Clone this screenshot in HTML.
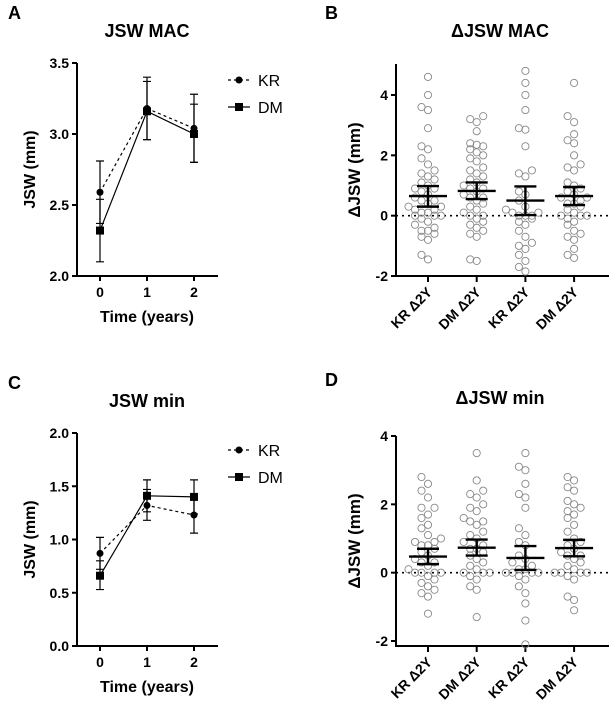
<!DOCTYPE html>
<html><head><meta charset="utf-8"><style>
body{margin:0;background:#fff}
svg{display:block;font-family:"Liberation Sans",Arial,sans-serif}
</style></head><body>
<svg id="fig" width="615" height="719" viewBox="0 0 615 719"></svg>
<script>
// ---- Data ----
const timeCats = [0, 1, 2];
const macKR = [2.59, 3.18, 3.04];
const macKRlo = [2.37, 2.96, 2.80];
const macKRhi = [2.81, 3.40, 3.28];
const macDM = [2.32, 3.16, 3.00];
const macDMlo = [2.10, 2.96, 2.80];
const macDMhi = [2.54, 3.37, 3.21];
const minKR = [0.87, 1.32, 1.23];
const minKRlo = [0.72, 1.18, 1.06];
const minKRhi = [1.02, 1.47, 1.40];
const minDM = [0.66, 1.41, 1.40];
const minDMlo = [0.53, 1.26, 1.24];
const minDMhi = [0.80, 1.56, 1.56];
const groupCats = ["KR Δ2Y","DM Δ2Y","KR Δ2Y","DM Δ2Y"];
const dMac1 = [4.6,4.0,3.6,3.5,2.9,2.3,2.2,1.9,1.7,1.5,1.4,1.3,1.2,1.0,0.9,0.8,0.7,0.6,0.5,0.4,0.3,0.2,0.2,0.1,0.1,0,0,-0.1,-0.2,-0.3,-0.4,-0.5,-0.5,-0.6,-0.7,-0.8,-1.3,-1.45,0.9,0.5,0.3,0.0,1.1];
const dMac2 = [3.3,3.2,3.1,2.8,2.4,2.35,2.3,2.2,2.1,2.0,1.9,1.8,1.6,1.5,1.4,1.2,1.1,1.0,0.9,0.8,0.7,0.6,0.5,0.4,0.3,0.2,0.1,0,0,-0.1,-0.2,-0.3,-0.4,-0.5,-0.6,-0.7,-1.45,-1.5,1.3,0.9,0.6];
const dMac3 = [4.8,4.4,4.0,3.5,2.9,2.85,2.3,1.5,1.4,1.3,0.8,0.7,0.5,0.3,0.2,0.1,0,0,-0.1,-0.2,-0.3,-0.5,-0.7,-0.9,-1.0,-1.1,-1.3,-1.5,-1.7,-1.85,0.1,0.0];
const dMac4 = [4.4,3.3,3.1,2.7,2.5,2.4,2.0,1.7,1.6,1.5,1.1,1.0,0.9,0.8,0.7,0.6,0.5,0.4,0.3,0.2,0.1,0,0,-0.1,-0.2,-0.3,-0.5,-0.6,-0.7,-0.8,-1.1,-1.3,-1.4,0.4,0.0,0.6];
const dMacMean = [0.65, 0.82, 0.50, 0.65];
const dMacLo = [0.30, 0.55, 0.02, 0.35];
const dMacHi = [0.98, 1.10, 0.97, 0.95];
const dMin1 = [2.8,2.6,2.4,2.2,1.9,1.9,1.7,1.6,1.4,1.3,1.1,1.0,0.9,0.9,0.8,0.7,0.6,0.5,0.4,0.3,0.2,0.1,0,0,0,-0.1,-0.2,-0.3,-0.4,-0.5,-0.6,-0.7,-1.2,0.8,0.3,0.0];
const dMin2 = [3.5,2.7,2.4,2.3,2.2,2.0,1.9,1.8,1.6,1.5,1.4,1.2,1.1,1.0,0.9,0.8,0.7,0.6,0.5,0.4,0.3,0.2,0.1,0,0,-0.1,-0.2,-0.4,-0.5,-1.3,1.5,0.7,0.0];
const dMin3 = [3.5,3.1,3.0,2.6,2.3,2.2,1.9,1.3,1.1,0.9,0.8,0.5,0.4,0.3,0.2,0.1,0,0,0,-0.1,-0.2,-0.4,-0.6,-0.9,-1.4,-2.1,0.0,0.1];
const dMin4 = [2.8,2.7,2.5,2.4,2.1,2.0,1.9,1.8,1.7,1.6,1.4,1.2,1.0,0.9,0.8,0.7,0.6,0.5,0.4,0.3,0.2,0.1,0,0,0,-0.1,-0.2,-0.7,-0.8,-1.1,0.0,0.5];
const dMinMean = [0.47, 0.73, 0.43, 0.72];
const dMinLo = [0.25, 0.50, 0.08, 0.48];
const dMinHi = [0.70, 0.97, 0.78, 0.96];
const macTicks = [2.0, 2.5, 3.0, 3.5];
const minTicks = [0.0, 0.5, 1.0, 1.5, 2.0];
const dMacTicks = [-2, 0, 2, 4];
const dMinTicks = [-2, 0, 2, 4];

const svg = document.getElementById('fig');
const NS = 'http://www.w3.org/2000/svg';
function mk(tag, attrs, text){
  const e = document.createElementNS(NS, tag);
  for (const k in attrs) e.setAttribute(k, attrs[k]);
  if (text !== undefined) e.textContent = text;
  svg.appendChild(e);
  return e;
}

function label(x, y, t, size, bold, anchor, rot, name){
  const e = mk('text', {x:x, y:y, 'font-size':size, 'font-weight':bold?'bold':'normal', 'text-anchor':anchor||'middle', fill:'#000'}, t);
  if (rot) e.setAttribute('transform', `rotate(${rot} ${x} ${y})`);
  
  
  return e;
}

function linePanel(oy, yMin, yMax, ticks, kr, krlo, krhi, dm, dmlo, dmhi, letter, title, pre){
  const x0 = 77, yTop = oy + 63, yBot = oy + 276;
  const xs = v => 100 + v * 47;
  const ys = v => yBot - (v - yMin) / (yMax - yMin) * (yBot - yTop);
  label(8, oy + 19, letter, 18, true, 'start', 0, pre + '-panel-letter');
  label(147, oy + 37, title, 18, true, 'middle', 0, pre + '-title');
  let a = mk('path', {d:`M${x0} ${yTop}V${yBot}H218`, stroke:'#000', 'stroke-width':2, fill:'none'});
  
  
  ticks.forEach(t => {
    const l = mk('line', {x1:x0-5, x2:x0, y1:ys(t), y2:ys(t), stroke:'#000', 'stroke-width':2});
    
    
    label(x0 - 8, ys(t) + 5, t.toFixed(1), 14, true, 'end', 0, pre + '-y-tick-label');
  });
  timeCats.forEach(c => {
    const l = mk('line', {x1:xs(c), x2:xs(c), y1:yBot, y2:yBot+5, stroke:'#000', 'stroke-width':2});
    
    
    label(xs(c), yBot + 21, String(c), 14, true, 'middle', 0, pre + '-x-tick-label');
  });
  label(147, yBot + 46, 'Time (years)', 16, true, 'middle', 0, pre + '-x-axis-title');
  label(35, (yTop + yBot) / 2, 'JSW (mm)', 16, true, 'middle', -90, pre + '-y-axis-title');
  const series = [[kr, krlo, krhi, '3,3', 'circle', 'kr'], [dm, dmlo, dmhi, '', 'square', 'dm']];
  series.forEach(s => {
    const [v, lo, hi, dash, shape, nm] = s;
    const p = mk('polyline', {points: timeCats.map((c,i) => `${xs(c)},${ys(v[i])}`).join(' '), stroke:'#000', 'stroke-width':1.2, fill:'none', 'stroke-dasharray':dash});
    
    
    timeCats.forEach((c, i) => {
      const x = xs(c);
      const eb = mk('path', {d:`M${x} ${ys(lo[i])}V${ys(hi[i])}M${x-4} ${ys(lo[i])}h8M${x-4} ${ys(hi[i])}h8`, stroke:'#000', 'stroke-width':1.2, fill:'none'});
      
      
      let m;
      if (shape === 'circle') m = mk('circle', {cx:x, cy:ys(v[i]), r:3.5, fill:'#000'});
      else m = mk('rect', {x:x-4, y:ys(v[i])-4, width:8, height:8, fill:'#000'});
      
      
    });
  });
  [['KR','3,3','circle',oy+80],['DM','','square',oy+107]].forEach(L => {
    const ln = mk('line', {x1:228, x2:250, y1:L[3], y2:L[3], stroke:'#000', 'stroke-width':1.2, 'stroke-dasharray':L[1]});
    
    
    let m;
    if (L[2] === 'circle') m = mk('circle', {cx:239, cy:L[3], r:3.5, fill:'#000'});
    else m = mk('rect', {x:235, y:L[3]-4, width:8, height:8, fill:'#000'});
    
    
    label(258, L[3] + 6, L[0], 16, false, 'start', 0, pre + '-legend-entry');
  });
}

const swarmPattern = [0, -6.5, 6.5, -13, 13, -19.5, 19.5, -3, 3, -10, 10, -16, 16];

function scatterPanel(oy, tickTopY, tickBotY, tickTopVal, tickBotVal, ticks, cols, means, lo, hi, letter, title, pre, axisTopY, axisBotY){
  const x0 = 396;
  const ys = v => tickBotY - (v - tickBotVal) / (tickTopVal - tickBotVal) * (tickBotY - tickTopY);
  const xs = i => 428 + i * 48.7;
  label(325, oy + 19, letter, 18, true, 'start', 0, pre + '-panel-letter');
  label(500, oy + 37, title, 18, true, 'middle', 0, pre + '-title');
  const zl = mk('line', {x1:x0, x2:609, y1:ys(0), y2:ys(0), stroke:'#000', 'stroke-width':1.6, 'stroke-dasharray':'2,4'});
  
  
  let a = mk('path', {d:`M${x0} ${axisTopY}V${axisBotY}H609`, stroke:'#000', 'stroke-width':2, fill:'none'});
  
  
  ticks.forEach(t => {
    const l = mk('line', {x1:x0-5, x2:x0, y1:ys(t), y2:ys(t), stroke:'#000', 'stroke-width':2});
    
    
    label(x0 - 8, ys(t) + 5, String(t), 14, true, 'end', 0, pre + '-y-tick-label');
  });
  label(360, (axisTopY + axisBotY) / 2, 'ΔJSW (mm)', 17, true, 'middle', -90, pre + '-y-axis-title');
  cols.forEach((vals, i) => {
    const cx = xs(i);
    const l = mk('line', {x1:cx, x2:cx, y1:axisBotY, y2:axisBotY+6, stroke:'#000', 'stroke-width':2});
    
    
    label(cx + 5, axisBotY + 17, groupCats[i], 14, true, 'end', -45, pre + '-x-tick-label');
    const sorted = vals.slice().sort((p, q) => p - q);
    let cnt = 0, anchorV = null;
    sorted.forEach((v) => {
      if (anchorV !== null && Math.abs(ys(v) - ys(anchorV)) < 7) cnt++; else { cnt = 0; anchorV = v; }
      const off = swarmPattern[cnt % swarmPattern.length];
      const c = mk('circle', {cx:cx + off, cy:ys(v), r:3.6, fill:'none', stroke:'#888', 'stroke-width':0.9});
      
      
    });
    const eb = mk('path', {d:`M${cx-19} ${ys(means[i])}h38M${cx} ${ys(lo[i])}V${ys(hi[i])}M${cx-11} ${ys(lo[i])}h22M${cx-11} ${ys(hi[i])}h22`, stroke:'#000', 'stroke-width':2.4, fill:'none'});
    
    
  });
}

linePanel(0, 2.0, 3.5, macTicks, macKR, macKRlo, macKRhi, macDM, macDMlo, macDMhi, 'A', 'JSW MAC', 'panel-a');
linePanel(370, 0.0, 2.0, minTicks, minKR, minKRlo, minKRhi, minDM, minDMlo, minDMhi, 'C', 'JSW min', 'panel-c');
scatterPanel(0, 95, 276, 4, -2, dMacTicks, [dMac1,dMac2,dMac3,dMac4], dMacMean, dMacLo, dMacHi, 'B', 'ΔJSW MAC', 'panel-b', 64, 276);
scatterPanel(367, 436, 641, 4, -2, dMinTicks, [dMin1,dMin2,dMin3,dMin4], dMinMean, dMinLo, dMinHi, 'D', 'ΔJSW min', 'panel-d', 436, 646);
</script>
</body></html>
